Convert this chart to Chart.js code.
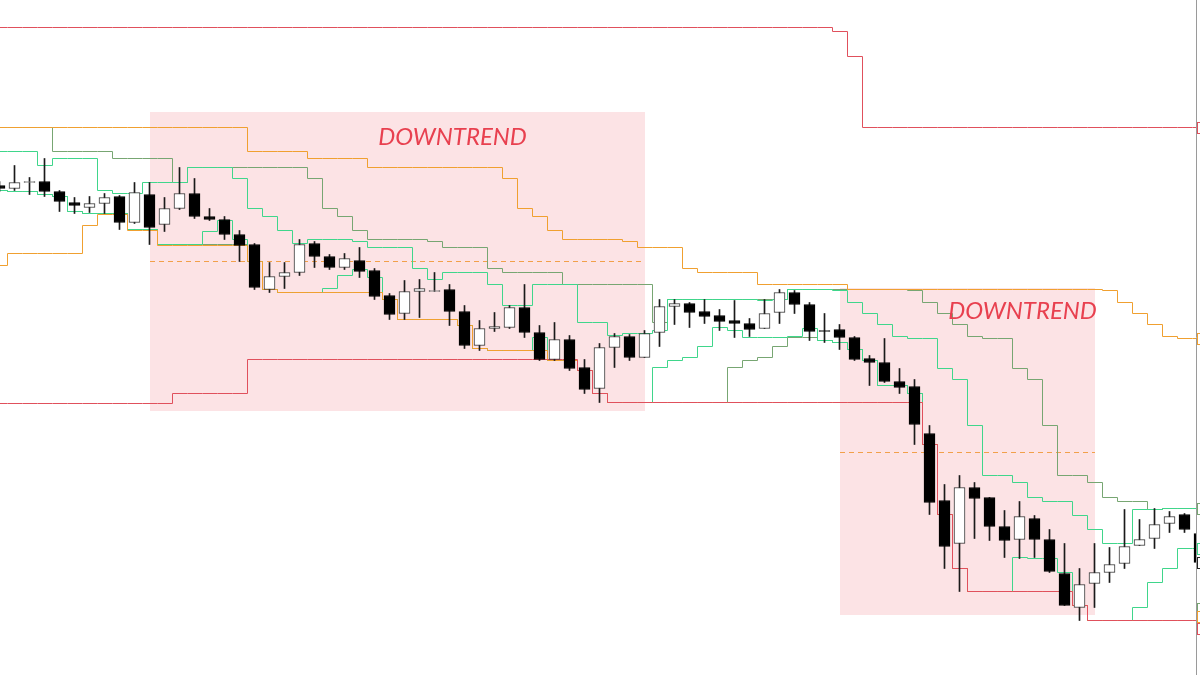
<!DOCTYPE html>
<html lang="en">
<head>
  <meta charset="UTF-8">
  <title>Downtrend channels</title>
  <script src="https://cdn.jsdelivr.net/npm/chart.js"></script>
  <style>
    html, body { margin: 0; padding: 0; background: #fff; }
    #wrap { width: 1200px; height: 675px; position: relative; }
  </style>
</head>
<body>
  <div id="wrap"><canvas id="chart"></canvas></div>

  <script>
    // Candles. Levels grow downwards (bigger number = lower price).
    const opens = [185,188,182,181,191,202,207,203,196,222, 194,224,208,193,216,219,234,244,289,276,
      272,243,256,267,260,270,295,313,291,291, 289,311,345,328,327,307,332,359,339,367,
      388,347,336,357,332,306,303,311,315,320, 323,328,312,292,304,330,329,337,358,362,
      381,386,433,500,543,487,497,526,539,518, 539,573,607,583,572,563,545,538,523,514, 533];
    const highs = [181,165,177,158,190,197,196,193,195,182, 182,197,167,178,208,216,230,243,262,262,
      239,241,254,253,247,268,293,280,279,272, 284,305,320,312,305,284,325,322,335,359,
      343,333,334,330,299,299,302,299,309,300, 318,299,289,290,302,313,324,336,355,338,
      368,379,425,484,475,482,497,510,501,515, 529,543,568,543,547,509,519,508,511,513, 530];
    const lows = [191,190,194,196,211,213,212,213,229,223, 244,231,209,218,220,239,261,289,292,288,
      275,267,269,269,277,299,319,319,317,291, 325,348,350,331,328,337,360,360,370,393,
      402,367,360,357,346,324,327,323,330,337, 336,328,323,313,340,342,349,360,385,382,
      393,444,514,568,591,538,540,557,558,557, 572,605,620,607,582,568,545,548,532,532, 568];
    const closes = [188,182,181,191,201,205,203,197,222,192, 227,208,193,216,219,234,245,287,276,272,
      244,256,267,258,271,296,314,291,288,290, 311,345,328,326,307,332,359,339,368,389,
      347,336,357,333,306,303,312,316,321,323, 329,313,292,304,331,331,337,359,362,381,
      387,424,502,546,487,498,526,540,516,539, 571,605,584,572,564,546,539,524,516,529, 562];

    // Channel lines (one level per candle)
    const redUpper = [27,27,27,27,27,27,27,27,27,27, 27,27,27,27,27,27,27,27,27,27,
      27,27,27,27,27,27,27,27,27,27, 27,27,27,27,27,27,27,27,27,27,
      27,27,27,27,27,27,27,27,27,27, 27,27,27,27,27,27,31,56,127,127,
      127,127,127,127,127,127,127,127,127,127, 127,127,127,127,127,127,127,127,127,127, 127];
    const redLower = [403,403,403,403,403,403,403,403,403,403, 403,403,393,393,393,393,393,359,359,359,
      359,359,359,359,359,359,359,359,359,359, 359,359,359,359,359,359,359,359,359,370,
      393,402,402,402,402,402,402,402,402,402, 402,402,402,402,402,402,402,402,402,402,
      402,402,444,514,568,591,591,591,591,591, 591,591,605,620,620,620,620,620,620,620, 620];
    const orangeUpper = [127,127,127,127,127,127,127,127,127,127, 127,127,127,127,127,127,127,151,151,151,
      151,158,158,158,158,167,167,167,167,167, 167,167,167,167,178,208,216,230,239,239,
      239,239,241,247,247,247,268,272,272,272, 272,284,284,284,284,284,284,289,289,289,
      289,289,289,289,289,289,289,289,289,289, 289,289,289,289,290,302,313,324,336,338, 338];
    const orangeLower = [265,253,253,253,253,253,225,214,214,230, 230,245,245,245,245,245,245,261,289,292,
      292,292,292,292,292,292,299,319,319,319, 319,325,348,350,350,350,350,360,360,370,
      393,402,402,402,402,402,402,402,402,402, 402,402,402,402,402,402,402,402,402,402,
      402,402,444,514,568,591,591,591,591,591, 591,591,605,620,620,620,620,620,620,620, 620];
    const mintUpper = [151,151,151,165,158,158,158,190,193,193, 182,182,182,167,167,167,178,208,216,230,
      243,239,239,239,241,247,247,247,268,279, 272,272,272,284,305,305,284,284,284,322,
      322,335,333,333,330,299,299,299,299,299, 299,300,299,289,289,289,290,302,313,324,
      336,338,338,368,379,425,475,475,482,497, 501,501,515,529,543,543,509,509,508,508, 508];
    const mintLower = [190,191,191,194,196,211,213,213,213,229, 229,244,244,244,231,220,239,261,289,292,
      292,292,288,275,269,277,299,319,319,319, 319,325,348,350,350,350,337,360,360,370,
      393,402,402,402,367,360,357,346,327,330, 337,337,337,336,328,340,342,349,360,385,
      385,393,444,514,568,591,591,591,557,558, 558,572,605,620,620,620,607,582,568,548, 548];
    const greenUpper = [127,127,127,127,151,151,151,151,158,158, 158,158,182,167,167,167,167,167,167,167,
      167,178,208,216,230,239,239,239,239,241, 247,247,247,268,272,272,272,272,284,284,
      284,284,284,284,322,299,299,299,299,299, 299,299,299,289,289,289,289,289,289,289,
      289,290,302,313,324,336,338,338,368,379, 425,475,475,482,497,501,501,509,508,508, 508];
    const greenLower = [190,191,191,194,196,211,213,213,213,229, 229,244,244,244,244,244,244,261,289,292,
      292,292,292,292,292,292,299,319,319,319, 319,325,348,350,350,350,350,360,360,370,
      393,402,402,402,402,402,402,402,402,367, 360,357,346,337,337,340,342,349,360,385,
      385,393,444,514,568,591,591,591,591,591, 591,591,605,620,620,620,620,620,620,620, 620];

    // Shaded downtrend zones: from candle, to candle, top, bottom, middle level
    const zoneFrom = [10, 56];
    const zoneTo = [43, 73];
    const zoneTop = [112, 288];
    const zoneBottom = [411, 615];
    const zoneMid = [261, 452];
    const zoneLabelAt = [30.2, 68.2];
    const zoneLabelLevel = [137, 311];
    const zoneLabel = 'DOWNTREND';

    const idx = opens.map((_, i) => i);
    const stepShift = 7 / 15; // steps fall between two candles

    function stepPoints(arr) {
      const pts = arr.map((v, i) => ({ x: i - stepShift, y: v }));
      pts.push({ x: arr.length - stepShift, y: arr[arr.length - 1] });
      return pts;
    }

    function channel(label, values, color, order) {
      return {
        type: 'line', label, data: stepPoints(values),
        borderColor: color, borderWidth: 1, pointRadius: 0,
        stepped: true, fill: false, order
      };
    }

    const zones = {
      id: 'zones',
      beforeDatasetsDraw(chart) {
        const { ctx, scales: { x, y } } = chart;
        ctx.save();
        zoneFrom.forEach((from, k) => {
          const left = Math.round(x.getPixelForValue(from));
          const right = Math.round(x.getPixelForValue(zoneTo[k]));
          const top = y.getPixelForValue(zoneTop[k]) - 0.5;
          const bottom = y.getPixelForValue(zoneBottom[k]) - 0.5;
          ctx.fillStyle = '#fce3e5';
          ctx.fillRect(left, top, right - left, bottom - top);
          const mid = y.getPixelForValue(zoneMid[k]);
          ctx.strokeStyle = '#f2a04a';
          ctx.lineWidth = 1;
          ctx.setLineDash([5, 4]);
          ctx.beginPath();
          ctx.moveTo(left, mid);
          ctx.lineTo(right, mid);
          ctx.stroke();
        });
        ctx.restore();
      },
      afterDatasetsDraw(chart) {
        const { ctx, scales: { x, y } } = chart;
        ctx.save();
        ctx.font = 'italic 24px Lato';
        ctx.fillStyle = '#e8404f';
        ctx.textAlign = 'center';
        ctx.textBaseline = 'middle';
        zoneLabelAt.forEach((at, k) => {
          ctx.fillText(zoneLabel, x.getPixelForValue(at), y.getPixelForValue(zoneLabelLevel[k]));
        });
        ctx.restore();
      },
      afterDraw(chart) {
        const { ctx, chartArea, scales: { y } } = chart;
        ctx.save();
        // right price axis edge
        ctx.strokeStyle = '#9a9a9a';
        ctx.lineWidth = 1;
        ctx.beginPath();
        ctx.moveTo(chartArea.right + 0.5, 0);
        ctx.lineTo(chartArea.right + 0.5, chart.height);
        ctx.stroke();
        // small price tags, cut by the window edge
        const last = opens.length - 1;
        const tags = [
          [redUpper[last], '#e0505c'], [orangeUpper[last], '#f0a030'],
          [greenUpper[last], '#77a672'], [mintLower[last], '#3fd68b'],
          [closes[last], '#222'], [greenLower[last] - 12, '#77a672'],
          [orangeLower[last] - 4, '#f0a030'], [redLower[last] + 8, '#e0505c']
        ];
        tags.forEach(([v, c]) => {
          const py = Math.round(y.getPixelForValue(v));
          ctx.fillStyle = '#fff';
          ctx.fillRect(chartArea.right + 1, py - 6, 12, 12);
          ctx.strokeStyle = c;
          ctx.strokeRect(chartArea.right + 1.5, py - 5.5, 12, 11);
        });
        ctx.restore();
      }
    };

    new Chart(document.getElementById('chart'), {
      type: 'bar',
      data: {
        datasets: [
          {
            label: 'body',
            data: idx.map(i => ({ x: i, y: [opens[i], closes[i]] })),
            backgroundColor: idx.map(i => closes[i] < opens[i] ? '#ffffff' : '#000000'),
            borderColor: idx.map(i => closes[i] < opens[i] ? '#333333' : '#000000'),
            borderWidth: 1, borderSkipped: false,
            barThickness: 11, grouped: false, order: 0
          },
          {
            label: 'wick',
            data: idx.map(i => ({ x: i, y: [highs[i], lows[i]] })),
            backgroundColor: '#1a1a1a',
            barThickness: 1, grouped: false, order: 1
          },
          channel('Red upper', redUpper, '#e0505c', 2),
          channel('Red lower', redLower, '#e0505c', 2),
          channel('Orange upper', orangeUpper, '#f0a030', 3),
          channel('Orange lower', orangeLower, '#f0a030', 3),
          channel('Mint upper', mintUpper, '#3fd68b', 4),
          channel('Mint lower', mintLower, '#3fd68b', 4),
          channel('Green upper', greenUpper, '#77a672', 5),
          channel('Green lower', greenLower, '#77a672', 5)
        ]
      },
      options: {
        responsive: true,
        maintainAspectRatio: false,
        animation: false,
        layout: { padding: { right: 4 } },
        plugins: { legend: { display: false }, tooltip: { enabled: false } },
        scales: {
          x: { type: 'linear', offset: false, min: 1 / 30, max: 1196.5 / 15, display: false },
          y: { reverse: true, min: -0.5, max: 674.5, display: false }
        }
      },
      plugins: [zones]
    });
  </script>
</body>
</html>
